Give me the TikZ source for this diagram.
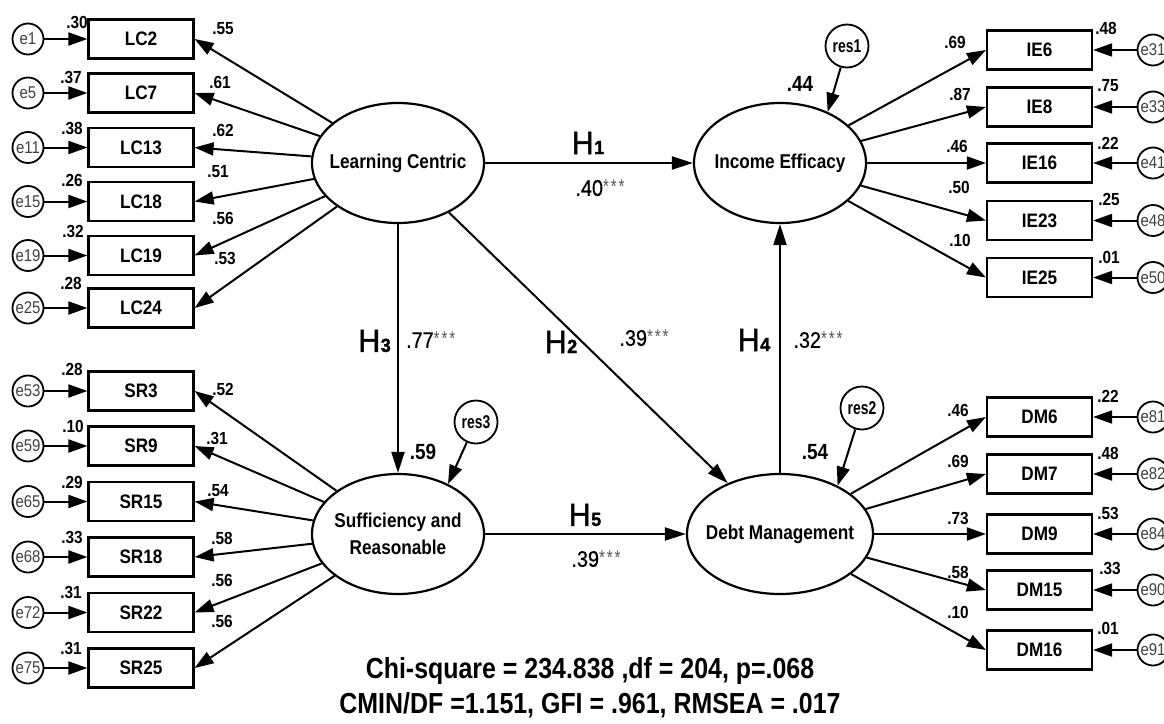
\documentclass[tikz,border=0pt]{standalone}
\usepackage{fontspec}
\setmainfont{Liberation Sans}
\newfontfamily\nf[FakeStretch=0.88]{Liberation Sans}
\newfontfamily\nnf[FakeStretch=0.86]{Liberation Sans}
\newfontfamily\cf[FakeStretch=0.88,FakeBold=0.6]{Liberation Sans}
\newfontfamily\rf[FakeStretch=0.75]{Liberation Sans}
\newfontfamily\hf[FakeStretch=0.95,FakeBold=1.6]{Liberation Sans}
\usetikzlibrary{arrows.meta,shapes.geometric}
\newcommand\mystars{\raisebox{2pt}{\color{black!65}\fontsize{20}{20}\selectfont\rf *\kern2pt*\kern2pt*}}
\newcommand\hyp[1]{{\hf\fontsize{32}{32}\selectfont H\kern0.5pt\bfseries\fontsize{19}{19}\selectfont #1}}
\tikzset{
  box/.style={draw, line width=2.2pt, minimum width=105pt, minimum height=39pt, inner sep=0pt,
    font=\nf\bfseries\fontsize{19.5}{20}\selectfont},
  lat/.style={draw, ellipse, line width=2.2pt, minimum width=172pt, minimum height=120pt, inner sep=0pt},
  latxt/.style={font=\nnf\bfseries\fontsize{20}{27}\selectfont, align=center, inner sep=0pt},
  err/.style={draw, circle, line width=1.8pt, minimum size=31pt, inner sep=0pt,
    font=\nf\fontsize{17}{17}\selectfont, text=black!75},
  resc/.style={draw, circle, line width=1.8pt, minimum size=43pt, inner sep=0pt,
    font=\rf\bfseries\fontsize{18.5}{19}\selectfont},
  lbl/.style={inner sep=0pt, font=\nf\bfseries\fontsize{17.5}{17}\selectfont},
  rlab/.style={inner sep=0pt, font=\nnf\bfseries\fontsize{22}{24}\selectfont},
  coef/.style={inner sep=0pt, font=\cf\fontsize{22.5}{24}\selectfont},
  hl/.style={inner sep=0pt},
  arr/.style={line width=2pt, -{Triangle[length=19pt,width=13pt]}},
  pth/.style={line width=2pt, -{Triangle[length=21pt,width=13pt]}},
  bot/.style={inner sep=0pt, align=center, font=\nnf\bfseries\fontsize{29}{35}\selectfont}
}
\begin{document}
\begin{tikzpicture}[x=1pt,y=-1pt]
\useasboundingbox (0,0) rectangle (1164,723);
\fill[white] (0,0) rectangle (1164,723);

% latent variables
\node[lat, label={[latxt]center:Learning Centric}] (LC) at (398,163) {};
\node[lat, label={[latxt]center:Income Efficacy}] (IE) at (780,163) {};
\node[lat, label={[latxt]center:{Sufficiency and\\Reasonable}}] (SR) at (398,534) {};
\node[lat, minimum width=186pt, label={[latxt]center:Debt Management}] (DM) at (780,534) {};

% residual circles
\node[resc] (res1) at (847,46) {res1};
\node[resc] (res3) at (476,422) {res3};
\node[resc] (res2) at (862,408) {res2};
\draw[arr] (res1) -- (IE.47);
\draw[arr] (res3) -- (SR.45);
\draw[arr] (res2) -- (DM.40);

% Learning Centric indicators
\foreach \n/\y/\e in {LC2/39/e1, LC7/93/e5, LC13/147.5/e11, LC18/201.5/e15, LC19/255.5/e19, LC24/308/e25} {
  \node[box] (\n) at (141,\y) {\n};
  \node[err] (\e) at (28,\y) {\e};
  \draw[arr] (\e) -- (\n);
  \draw[arr] (LC) -- (\n.east);
}
% Sufficiency indicators
\foreach \n/\y/\e in {SR3/391/e53, SR9/446/e59, SR15/501.5/e65, SR18/557/e68, SR22/612.5/e72, SR25/668/e75} {
  \node[box] (\n) at (141,\y) {\n};
  \node[err] (\e) at (28,\y) {\e};
  \draw[arr] (\e) -- (\n);
  \draw[arr] (SR) -- (\n.east);
}
% Income Efficacy indicators
\foreach \n/\y/\e in {IE6/50/e31, IE8/107/e33, IE16/163/e41, IE23/220.5/e48, IE25/277.5/e50} {
  \node[box] (\n) at (1039.5,\y) {\n};
  \node[err] (\e) at (1153,\y) {\e};
  \draw[arr] (\e) -- (\n);
  \draw[arr] (IE) -- (\n.west);
}
% Debt Management indicators
\foreach \n/\y/\e in {DM6/417/e81, DM7/474/e82, DM9/534/e84, DM15/590/e90, DM16/650/e91} {
  \node[box] (\n) at (1039.5,\y) {\n};
  \node[err] (\e) at (1153,\y) {\e};
  \draw[arr] (\e) -- (\n);
  \draw[arr] (DM) -- (\n.west);
}

% structural paths
\draw[pth] (LC) -- (IE);
\draw[pth] (LC) -- (SR);
\draw[pth] (LC) -- (DM);
\draw[pth] (DM) -- (IE);
\draw[pth] (SR) -- (DM);

% numeric labels
\foreach \t/\x/\y [count=\i] in {.30/77/22, .37/71/77, .38/72/128, .26/72/180, .32/73/231, .28/71/283,
  .28/72/369, .10/73/426, .29/72/482, .33/72/537, .31/71/592, .31/71/648,
  .55/223/29, .61/220/82, .62/223/130, .51/218/172, .56/223/218, .53/225/258,
  .52/223/389, .31/217/438, .54/218/491, .58/222/538, .56/222/580, .56/222/621,
  .69/955/42, .87/960/94, .46/957/146, .50/959/187, .10/960/240,
  .48/1106/28, .75/1108/86, .22/1108/143, .25/1109/199, .01/1109/257,
  .46/958/410, .69/958/461, .73/958/518, .58/958/572, .10/958/612,
  .22/1108/396, .48/1108/453, .53/1108/513, .33/1110/568, .01/1108/628} {
  \node[lbl] (n\i) at (\x,\y) {\t};
}
\node[rlab] (r44) at (800,84) {.44};
\node[rlab] (r59) at (423,452) {.59};
\node[rlab] (r54) at (815,452) {.54};

% hypothesis labels
\node[hl] (h1) at (588,143) {\hyp{1}};
\node[coef] (c1) at (600,188) {.40\mystars};
\node[hl, anchor=east] (h3) at (391,341) {\hyp{3}};
\node[coef, anchor=west] (c3) at (406,340) {.77\mystars};
\node[hl] (h2) at (561,342) {\hyp{2}};
\node[coef] (c2) at (644,338) {.39\mystars};
\node[hl] (h4) at (754,340) {\hyp{4}};
\node[coef] (c4) at (818,340) {.32\mystars};
\node[hl] (h5) at (585,515) {\hyp{5}};
\node[coef] (c5) at (596,559) {.39\mystars};

% fit indices
\node[bot] (fit) at (590,688) {Chi-square = 234.838 ,df = 204, p=.068\\CMIN/DF =1.151, GFI = .961, RMSEA = .017};
\end{tikzpicture}
\end{document}
